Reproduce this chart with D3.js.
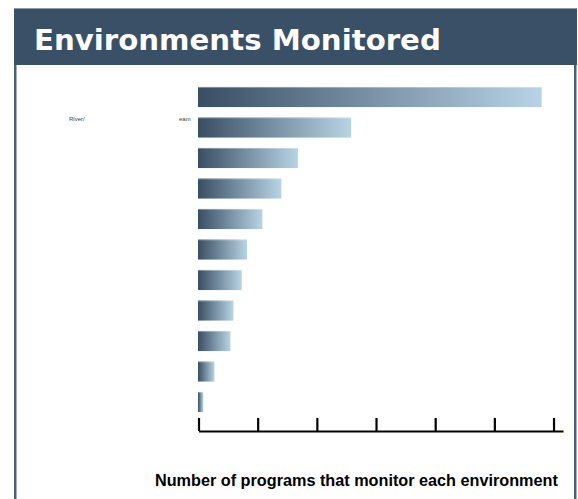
<!DOCTYPE html>
<html>
<head>
<meta charset="utf-8">
<script src="https://cdn.jsdelivr.net/npm/d3@7"></script>
<style>
  html, body { margin: 0; padding: 0; background: #ffffff; }
  svg { display: block; }
</style>
</head>
<body>
<svg id="chart" width="578" height="499"></svg>
<script>
// ---- data ----
const categories = ["Lakes", "River/Stream", "Wetlands", "Estuaries", "Groundwater", "Reservoirs",
                    "Coastal", "Ponds", "Springs", "Marine", "Other"];
const values = [29, 12.9, 8.4, 7.0, 5.4, 4.1, 3.65, 2.95, 2.7, 1.35, 0.4];
const tickValues = [0, 5, 10, 15, 20, 25, 30];
const titleText = "Environments Monitored";
const xLabelText = "Number of programs that monitor each environment";
const visibleLabelBits = ["River/", "eam"];

// ---- layout ----
const W = 578, H = 499;
const svg = d3.select("#chart");

const defs = svg.append("defs");
const grad = defs.append("linearGradient").attr("id", "barGrad")
  .attr("x1", "0%").attr("x2", "100%").attr("y1", "0%").attr("y2", "0%");
grad.append("stop").attr("offset", "0%").attr("stop-color", "#394e64");
grad.append("stop").attr("offset", "100%").attr("stop-color", "#b8d4e4");

// panel borders
svg.append("rect").attr("x", 14).attr("y", 60).attr("width", 2.5).attr("height", H - 60).attr("fill", "#4a6078");
svg.append("rect").attr("x", 574).attr("y", 60).attr("width", 2.5).attr("height", H - 60).attr("fill", "#4a6078");

// header
svg.append("rect").attr("x", 14).attr("y", 8).attr("width", 563).attr("height", 57).attr("fill", "#3a5066");
svg.append("rect").attr("x", 14).attr("y", 8).attr("width", 563).attr("height", 1).attr("fill", "#8d9aa6");

const title = svg.append("text")
  .attr("x", 34).attr("y", 50)
  .attr("fill", "#ffffff")
  .attr("font-family", "DejaVu Sans, sans-serif")
  .attr("font-weight", "bold")
  .attr("font-size", 30)
  .text(titleText);
{
  const w = title.node().getComputedTextLength();
  title.attr("font-size", 30 * 407 / w);
}

// scales
const x = d3.scaleLinear().domain([0, 30.8]).range([198.5, 563]);
const y = d3.scaleBand().domain(categories).range([81.75, 417.25]).paddingInner(0.34).paddingOuter(0.17);

// bars
svg.append("g").selectAll("rect").data(values).join("rect")
  .attr("x", x(0) - 0.5)
  .attr("y", (d, i) => y(categories[i]))
  .attr("width", d => x(d) - x(0) + 0.5)
  .attr("height", y.bandwidth())
  .attr("fill", "url(#barGrad)");

// thin light top edge on bars
svg.append("g").selectAll("rect").data(values).join("rect")
  .attr("x", x(0) - 0.5)
  .attr("y", (d, i) => y(categories[i]))
  .attr("width", d => x(d) - x(0) + 0.5)
  .attr("height", 1)
  .attr("fill", "#ffffff").attr("opacity", 0.35);

// tiny surviving label fragments
svg.append("g").selectAll("text").data(visibleLabelBits).join("text")
  .attr("x", (d, i) => i === 0 ? 69 : 179)
  .attr("y", 121)
  .attr("font-family", "Liberation Sans, sans-serif")
  .attr("font-size", 6)
  .attr("fill", "#444")
  .text(d => d);

// axis
const axis = d3.axisBottom(x).tickValues(tickValues).tickSize(-13).tickSizeOuter(0).tickFormat("");
const gAxis = svg.append("g").attr("transform", "translate(0,431)").call(axis);
gAxis.select(".domain").attr("stroke", "#000").attr("stroke-width", 2.2);
gAxis.selectAll(".tick line").attr("stroke", "#000").attr("stroke-width", 2.2);

// x label
const xl = svg.append("text")
  .attr("x", 155).attr("y", 486)
  .attr("fill", "#000")
  .attr("font-family", "Liberation Sans, Arial, sans-serif")
  .attr("font-weight", "bold")
  .attr("font-size", 14)
  .text(xLabelText);
{
  const w = xl.node().getComputedTextLength();
  xl.attr("font-size", 14 * 403 / w);
}
</script>
</body>
</html>
